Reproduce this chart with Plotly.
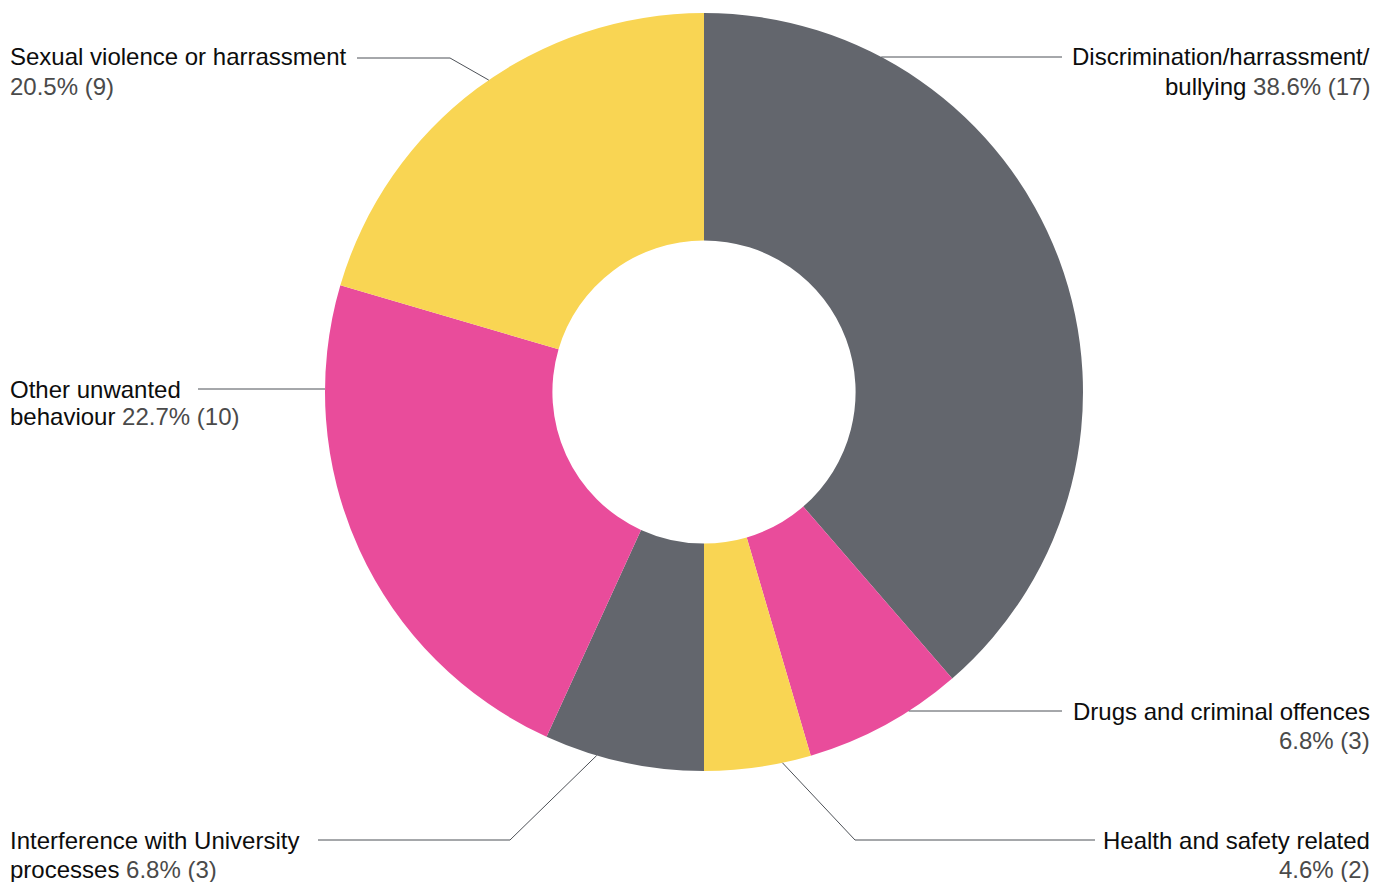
import math
import plotly.graph_objects as go

# Reported cases by category (clockwise from 12 o'clock)
categories = [
    "Discrimination/harrassment/bullying",
    "Drugs and criminal offences",
    "Health and safety related",
    "Interference with University processes",
    "Other unwanted behaviour",
    "Sexual violence or harrassment",
]
counts = [17, 3, 2, 3, 10, 9]
pct_labels = ["38.6%", "6.8%", "4.6%", "6.8%", "22.7%", "20.5%"]

# How each category name wraps onto the two label lines
label_line1 = [
    "Discrimination/harrassment/",
    "Drugs and criminal offences",
    "Health and safety related",
    "Interference with University",
    "Other unwanted",
    "Sexual violence or harrassment",
]
label_line2 = ["bullying", "", "", "processes", "behaviour", ""]

GREY = "#63666d"
PINK = "#e94c9b"
YELLOW = "#f9d553"
slice_colors = [GREY, PINK, YELLOW, GREY, PINK, YELLOW]

W, H = 1389, 882
CX, CY, R = 704, 392, 379  # donut centre and outer radius in pixels
HOLE = 0.40

TEXT_DARK = "#0d0d0d"
TEXT_GREY = "#4a4a4a"
LINE_COL = "#4d5157"
FONT = "Liberation Sans, Arial, sans-serif"
FS = 24


def px(x):
    return x / W


def py(y):
    return 1 - y / H


def rim_point(angle_deg):
    a = math.radians(angle_deg)
    return CX + R * math.sin(a), CY - R * math.cos(a)


def rim_at_y(y, side):
    dx = math.sqrt(max(R * R - (y - CY) ** 2, 0))
    return (CX + dx if side == "right" else CX - dx), y


total = sum(counts)
starts, acc = [], 0
for c in counts:
    starts.append(acc / total * 360)
    acc += c
spans = [c / total * 360 for c in counts]

# Label layout: side, text-line y positions, leader style
label_layout = [
    dict(side="right", y1=57, y2=86, leader="flat", end_x=1062),
    dict(side="right", y1=711, y2=740, leader="flat", end_x=1062),
    dict(side="right", y1=840, y2=869, leader="elbow", frac=0.27, elbow=(855, 840), end_x=1095),
    dict(side="left", y1=840, y2=869, leader="elbow", frac=0.67, elbow=(510, 840), end_x=318),
    dict(side="left", y1=389, y2=416, leader="flat", end_x=198),
    dict(side="left", y1=57, y2=86, leader="elbow", frac=0.53, elbow=(450, 58), end_x=357),
]

fig = go.Figure(
    go.Pie(
        labels=categories,
        values=counts,
        marker=dict(colors=slice_colors, line=dict(width=0)),
        hole=HOLE,
        sort=False,
        direction="clockwise",
        rotation=0,
        textinfo="none",
        hoverinfo="label+value+percent",
        showlegend=False,
        domain=dict(x=[px(CX - R), px(CX + R)], y=[py(CY + R), py(CY - R)]),
    )
)

shapes, annotations = [], []
for i, lay in enumerate(label_layout):
    side = lay["side"]
    if lay["leader"] == "flat":
        sx, sy = rim_at_y(lay["y1"], side)
        pts = [(sx, sy), (lay["end_x"], lay["y1"])]
    else:
        ang = starts[i] + spans[i] * lay["frac"]
        sx, sy = rim_point(ang)
        ex, ey = lay["elbow"]
        pts = [(sx, sy), (ex, ey), (lay["end_x"], ey)]
    for (x0, y0), (x1, y1) in zip(pts[:-1], pts[1:]):
        shapes.append(dict(type="line", xref="paper", yref="paper",
                           x0=px(x0), y0=py(y0), x1=px(x1), y1=py(y1),
                           line=dict(color=LINE_COL, width=1)))

    value_txt = f"<span style='color:{TEXT_GREY}'>{pct_labels[i]} ({counts[i]})</span>"
    second = (label_line2[i] + " " + value_txt) if label_line2[i] else value_txt
    tx = 1372 if side == "right" else 8
    anchor = "right" if side == "right" else "left"
    for txt, yy in ((label_line1[i], lay["y1"]), (second, lay["y2"])):
        annotations.append(dict(
            x=px(tx), y=py(yy), xref="paper", yref="paper",
            xanchor=anchor, yanchor="middle", showarrow=False,
            text=txt, align=anchor,
            font=dict(family=FONT, size=FS, color=TEXT_DARK),
        ))

fig.update_layout(
    width=W, height=H,
    margin=dict(l=0, r=0, t=0, b=0),
    paper_bgcolor="white", plot_bgcolor="white",
    shapes=shapes, annotations=annotations,
)

fig.write_html("out.html")
